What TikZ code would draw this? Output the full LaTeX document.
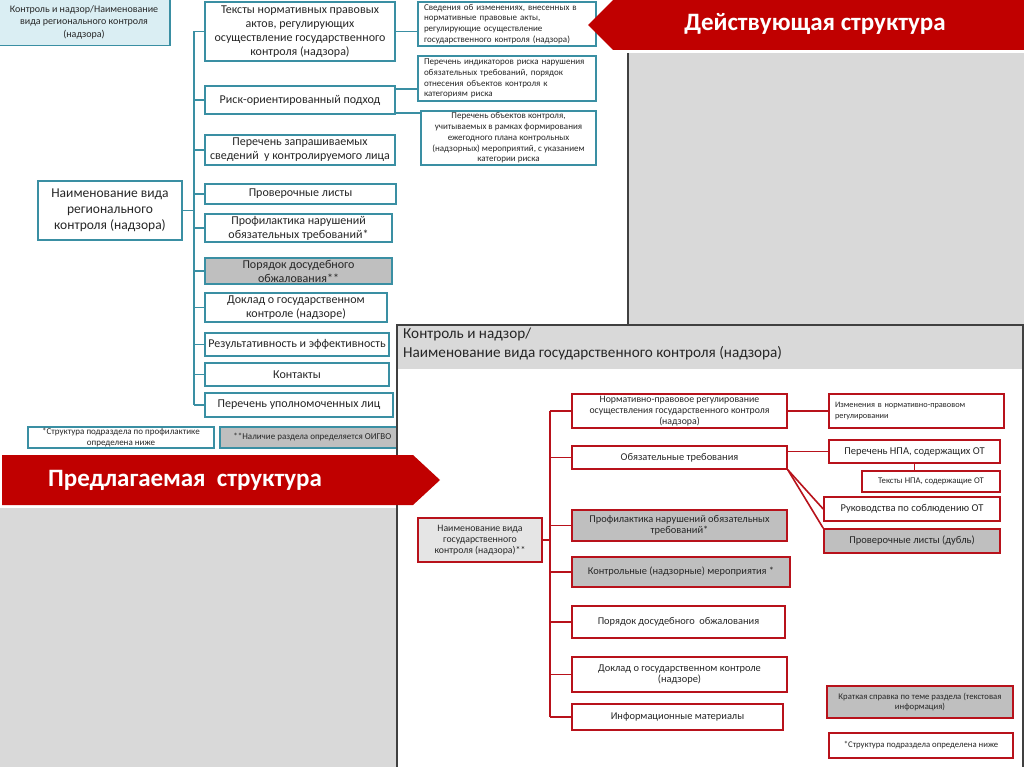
\documentclass[tikz,border=0pt]{standalone}
\usepackage{fontspec}
\setmainfont{Carlito}
\usepackage{xcolor}
\usepackage{tikz}
\usetikzlibrary{positioning,calc}
\definecolor{tealline}{HTML}{3A8FA3}
\definecolor{redline}{HTML}{B8121B}
\definecolor{banner}{HTML}{C00000}
\definecolor{panelgray}{HTML}{D9D9D9}
\definecolor{boxgray}{HTML}{BFBFBF}
\definecolor{hdrblue}{HTML}{DAEEF3}
\definecolor{ink}{HTML}{262626}

\begin{document}
\begin{tikzpicture}[x=1pt,y=-1pt,
    tbox/.style={draw=tealline,line width=1.6pt,fill=white,align=center,
      inner sep=1pt,text=ink,font=\fontsize{12}{14}\selectfont},
    tnote/.style={tbox,font=\fontsize{9}{10.8}\selectfont},
    rbox/.style={draw=redline,line width=1.6pt,fill=white,align=center,
      inner sep=1pt,text=ink,font=\fontsize{10.4}{11.5}\selectfont},
    rnote/.style={rbox,font=\fontsize{8.7}{10.5}\selectfont},
    wh/.style 2 args={minimum width=#1pt,minimum height=#2pt},
    grayfill/.style={fill=boxgray},
    tlink/.style={draw=tealline,line width=1.6pt},
    rlink/.style={draw=redline,line width=1.6pt},
    bantext/.style={text=white,font=\fontsize{25}{29}\selectfont\bfseries,inner sep=0pt}
  ]
    \useasboundingbox[fill=white] (0,0) rectangle (1024,767);

    \fill[panelgray] (629,53) rectangle (1024,325);
    \draw[line width=2pt,black!75] (628,53) -- (628,325);

    \node[tbox,fill=hdrblue,wh={172}{47},font=\fontsize{10}{12.5}\selectfont] (hdr) at (84,22)
      {Контроль и надзор/Наименование\\вида регионального контроля\\(надзора)};
    \node[tbox,wh={144}{59},font=\fontsize{13.5}{16}\selectfont] (main) at (110,210.5)
      {Наименование вида\\регионального\\контроля (надзора)};

    \node[tbox,wh={190}{59}] (t1) at (300,31.5)
      {Тексты нормативных правовых\\актов, регулирующих\\осуществление государственного\\контроля (надзора)};
    \node[tbox,wh={190}{28}] (t2) at (300,100) {Риск-ориентированный подход};
    \node[tbox,wh={190}{30}] (t3) at (300,150) {Перечень запрашиваемых\\сведений~~у контролируемого лица};
    \node[tbox,wh={191}{20}] (t4) at (300.5,194) {Проверочные листы};
    \node[tbox,wh={187}{28}] (t5) at (298.5,228) {Профилактика нарушений\\обязательных требований*};
    \node[tbox,grayfill,wh={187}{26}] (t6) at (298.5,271) {Порядок досудебного\\обжалования**};
    \node[tbox,wh={182}{29}] (t7) at (296,307.5) {Доклад о государственном\\контроле (надзоре)};
    \node[tbox,wh={184}{23}] (t8) at (297,344.5) {Результативность и эффективность};
    \node[tbox,wh={184}{23}] (t9) at (297,374.5) {Контакты};
    \node[tbox,wh={188}{24}] (t10) at (299,405) {Перечень уполномоченных лиц};

    \node[tnote,wh={178}{44},text width=166pt,inner xsep=6pt,align=left] (ra) at (507,24)
      {Сведения об изменениях, внесенных в\\нормативные правовые акты,\\регулирующие осуществление\\государственного контроля (надзора)};
    \node[tnote,wh={178}{45},text width=166pt,inner xsep=6pt,align=left] (rb) at (507,78.5)
      {Перечень индикаторов риска нарушения\\обязательных требований, порядок\\отнесения объектов контроля к\\категориям риска};
    \node[tnote,wh={175}{54}] (rc) at (508.5,138)
      {Перечень объектов контроля,\\учитываемых в рамках формирования\\ежегодного плана контрольных\\(надзорных) мероприятий, с указанием\\категории риска};

    \draw[tlink] (main.east) -- ++(11,0) coordinate (tk);
    \draw[tlink] (tk |- t1.west) -- (tk |- t10.west);
    \foreach \n in {t1,t2,t3,t4,t5,t6,t7,t8,t9,t10}
      \draw[tlink] (tk |- \n.west) -- (\n.west);
    \draw[tlink] (t1.east) -- (t1.east -| ra.west);
    \draw[tlink] ($(t2.north east)+(0,4)$) coordinate (rk1) -- (rk1 -| rb.west);
    \draw[tlink] ($(t2.south east)+(0,-2)$) coordinate (rk2) -- (rk2 -| rc.west);

    \node[tnote,wh={186}{21}] (fn1) at (121,437.5) {*Структура подраздела по профилактике\\определена ниже};
    \node[tnote,grayfill,wh={179}{21},anchor=west] (fn2) at (219,437.5) {~~~**Наличие раздела определяется ОИГВО};

    \fill[panelgray] (0,508) rectangle (397,767);
    \draw[line width=2pt,draw=black!75,fill=white] (397,325) rectangle (1023,769);
    \fill[panelgray] (398,326) rectangle (1022,369);
    \node[anchor=north west,align=left,inner sep=0pt,text=ink,font=\fontsize{15.2}{19}\selectfont] (phdr) at (403,328)
      {Контроль и надзор/\\Наименование вида государственного контроля (надзора)};

    \node[rbox,fill=black!10,wh={124}{44},font=\fontsize{9.8}{11}\selectfont] (root) at (480,540)
      {Наименование вида\\государственного\\контроля (надзора)**};

    \node[rbox,wh={215}{34},font=\fontsize{9.8}{11}\selectfont] (c1) at (679.5,411)
      {Нормативно-правовое регулирование\\осуществления государственного контроля\\(надзора)};
    \node[rbox,wh={215}{23}] (c2) at (679.5,457.5) {Обязательные требования};
    \node[rbox,grayfill,wh={215}{31}] (c3) at (679.5,525.5) {Профилактика нарушений обязательных\\требований*};
    \node[rbox,grayfill,wh={218}{30}] (c4) at (681,572) {Контрольные (надзорные) мероприятия *};
    \node[rbox,wh={213}{32}] (c5) at (678.5,622) {Порядок досудебного~~обжалования};
    \node[rbox,wh={215}{35}] (c6) at (679.5,674.5) {Доклад о государственном контроле\\(надзоре)};
    \node[rbox,wh={211}{26}] (c7) at (677.5,717) {Информационные материалы};

    \node[rnote,wh={175}{34},text width=163pt,inner xsep=6pt,align=left,font=\fontsize{8.3}{10.5}\selectfont] (chg) at (916.5,411)
      {Изменения в нормативно-правовом\\регулировании};
    \node[rbox,wh={171}{23},font=\fontsize{10.5}{12}\selectfont] (npa) at (914.5,451.5) {Перечень НПА, содержащих ОТ};
    \node[rnote,wh={138}{21}] (npatxt) at (931,481.5) {Тексты НПА, содержащие ОТ};
    \node[rbox,wh={176}{24},font=\fontsize{10.5}{12}\selectfont] (guide) at (912,509) {Руководства по соблюдению ОТ};
    \node[rbox,grayfill,wh={176}{24},font=\fontsize{10.5}{12}\selectfont] (dup) at (912,541) {Проверочные листы (дубль)};
    \node[rnote,grayfill,wh={186}{32}] (brief) at (920,702) {Краткая справка по теме раздела (текстовая\\информация)};
    \node[rnote,wh={184}{25}] (rfoot) at (921,745.5) {*Структура подраздела определена ниже};

    \draw[rlink] (root.east) -- ++(7,0) coordinate (rk);
    \draw[rlink] (rk |- c1.west) -- (rk |- c7.west);
    \foreach \n in {c1,c2,c3,c4,c5,c6,c7}
      \draw[rlink] (rk |- \n.west) -- (\n.west);
    \draw[rlink] (c1.east) -- (chg.west);
    \draw[rlink] (npa.west -| c2.east) -- (npa.west);
    \draw[rlink] (npa.south) -- (npa.south |- npatxt.north);
    \draw[rlink] (c2.south east) -- (guide.west);
    \draw[rlink] (c2.south east) -- (dup.north west);

    \fill[banner] (588,25) -- (613,0) -- (1024,0) -- (1024,50) -- (613,50) -- cycle;
    \node[bantext] (cur) at (815,24) {Действующая структура};
    \fill[banner] (2,455) -- (413,455) -- (440,480) -- (413,505) -- (2,505) -- cycle;
    \node[bantext] (prop) at (185,480) {Предлагаемая~~структура};
  \end{tikzpicture}
\end{document}
